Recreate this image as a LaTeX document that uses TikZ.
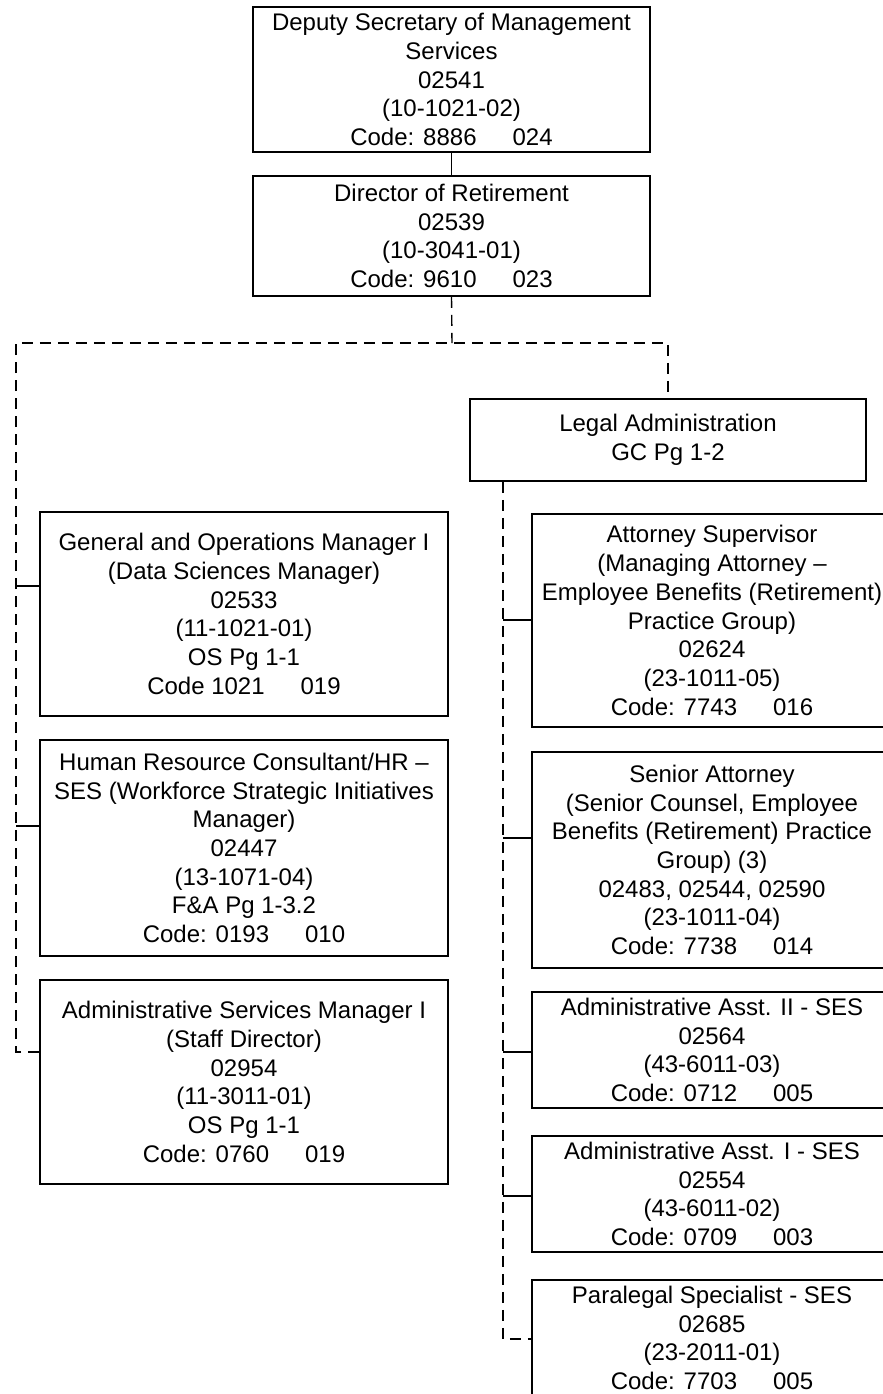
\documentclass[tikz,border=0pt]{standalone}
\usepackage{fontspec}
\setmainfont{Liberation Sans}
\newcommand{\codegap}{\hspace*{1.5em}}
\begin{document}
\begin{tikzpicture}[x=0.5pt,y=-0.5pt,
  box/.style={draw, line width=0.85pt, rectangle, inner sep=0pt, align=center,
              font=\fontsize{12}{14.35}\selectfont},
  leftbox/.style={box, minimum width=204pt},
  rightbox/.style={box, minimum width=180pt},
  link/.style={line width=0.75pt},
  dashlink/.style={line width=0.7pt, dash pattern=on 5.5pt off 3.5pt}]
\useasboundingbox (0,0) rectangle (883,1394);

% top of the chart
\node[box, minimum width=198.5pt, minimum height=72.5pt] (dep) at (451.5,79.5)
  {Deputy Secretary of Management\\Services\\02541\\(10-1021-02)\\Code: 8886\codegap 024};
\node[box, minimum width=198.5pt, minimum height=60pt] (dir) at (451.5,236)
  {Director of Retirement\\02539\\(10-3041-01)\\Code: 9610\codegap 023};
\node[box, minimum width=198pt, minimum height=41pt] (legal) at (668,440)
  {Legal Administration\\GC Pg 1-2};

% left column
\node[leftbox, minimum height=102pt] (gen) at (244,614)
  {General and Operations Manager I\\(Data Sciences Manager)\\02533\\(11-1021-01)\\OS Pg 1-1\\Code 1021\codegap 019};
\node[leftbox, minimum height=108pt] (hr) at (244,848)
  {Human Resource Consultant/HR –\\SES (Workforce Strategic Initiatives\\Manager)\\02447\\(13-1071-04)\\F\&A Pg 1-3.2\\Code: 0193\codegap 010};
\node[leftbox, minimum height=102pt] (asm) at (244,1082)
  {Administrative Services Manager I\\(Staff Director)\\02954\\(11-3011-01)\\OS Pg 1-1\\Code: 0760\codegap 019};

% right column
\node[rightbox, minimum height=106.5pt] (atty) at (712,620.5)
  {Attorney Supervisor\\(Managing Attorney –\\Employee Benefits (Retirement)\\Practice Group)\\02624\\(23-1011-05)\\Code: 7743\codegap 016};
\node[rightbox, minimum height=108pt] (sen) at (712,860)
  {Senior Attorney\\(Senior Counsel, Employee\\Benefits (Retirement) Practice\\Group) (3)\\02483, 02544, 02590\\(23-1011-04)\\Code: 7738\codegap 014};
\node[rightbox, minimum height=58pt] (aa2) at (712,1050)
  {Administrative Asst. II - SES\\02564\\(43-6011-03)\\Code: 0712\codegap 005};
\node[rightbox, minimum height=58pt] (aa1) at (712,1194)
  {Administrative Asst. I - SES\\02554\\(43-6011-02)\\Code: 0709\codegap 003};
\node[rightbox, minimum height=58pt] (para) at (712,1338)
  {Paralegal Specialist - SES\\02685\\(23-2011-01)\\Code: 7703\codegap 005};

% junction points of the connector lines
\coordinate (jn) at (452,343);
\coordinate (lc) at (16,343);
\coordinate (rc) at (668,343);
\coordinate (lb) at (16,1052);
\coordinate (rb) at (503,1339);
\coordinate (l1) at (16,586);
\coordinate (l2) at (16,826);
\coordinate (r1) at (503,620);
\coordinate (r2) at (503,838);
\coordinate (r3) at (503,1052);
\coordinate (r4) at (503,1196);

% solid reporting line
\draw[link] (dep.south) -- (dir.south |- dep.south) -- (dir.north);

% dashed reporting lines
\draw[dashlink] (dir.south) -- (jn);
\draw[dashlink] (lb -| asm.west) -- (lb) -- (lc) -- (rc) -- (legal.north);
\draw[dashlink] (legal.south west -| rb) -- (rb) -- (rb -| para.west);

% solid ticks to the boxes
\draw[link] (l1) -- (l1 -| gen.west);
\draw[link] (l2) -- (l2 -| hr.west);
\draw[link] (r1) -- (r1 -| atty.west);
\draw[link] (r2) -- (r2 -| sen.west);
\draw[link] (r3) -- (r3 -| aa2.west);
\draw[link] (r4) -- (r4 -| aa1.west);
\end{tikzpicture}
\end{document}
